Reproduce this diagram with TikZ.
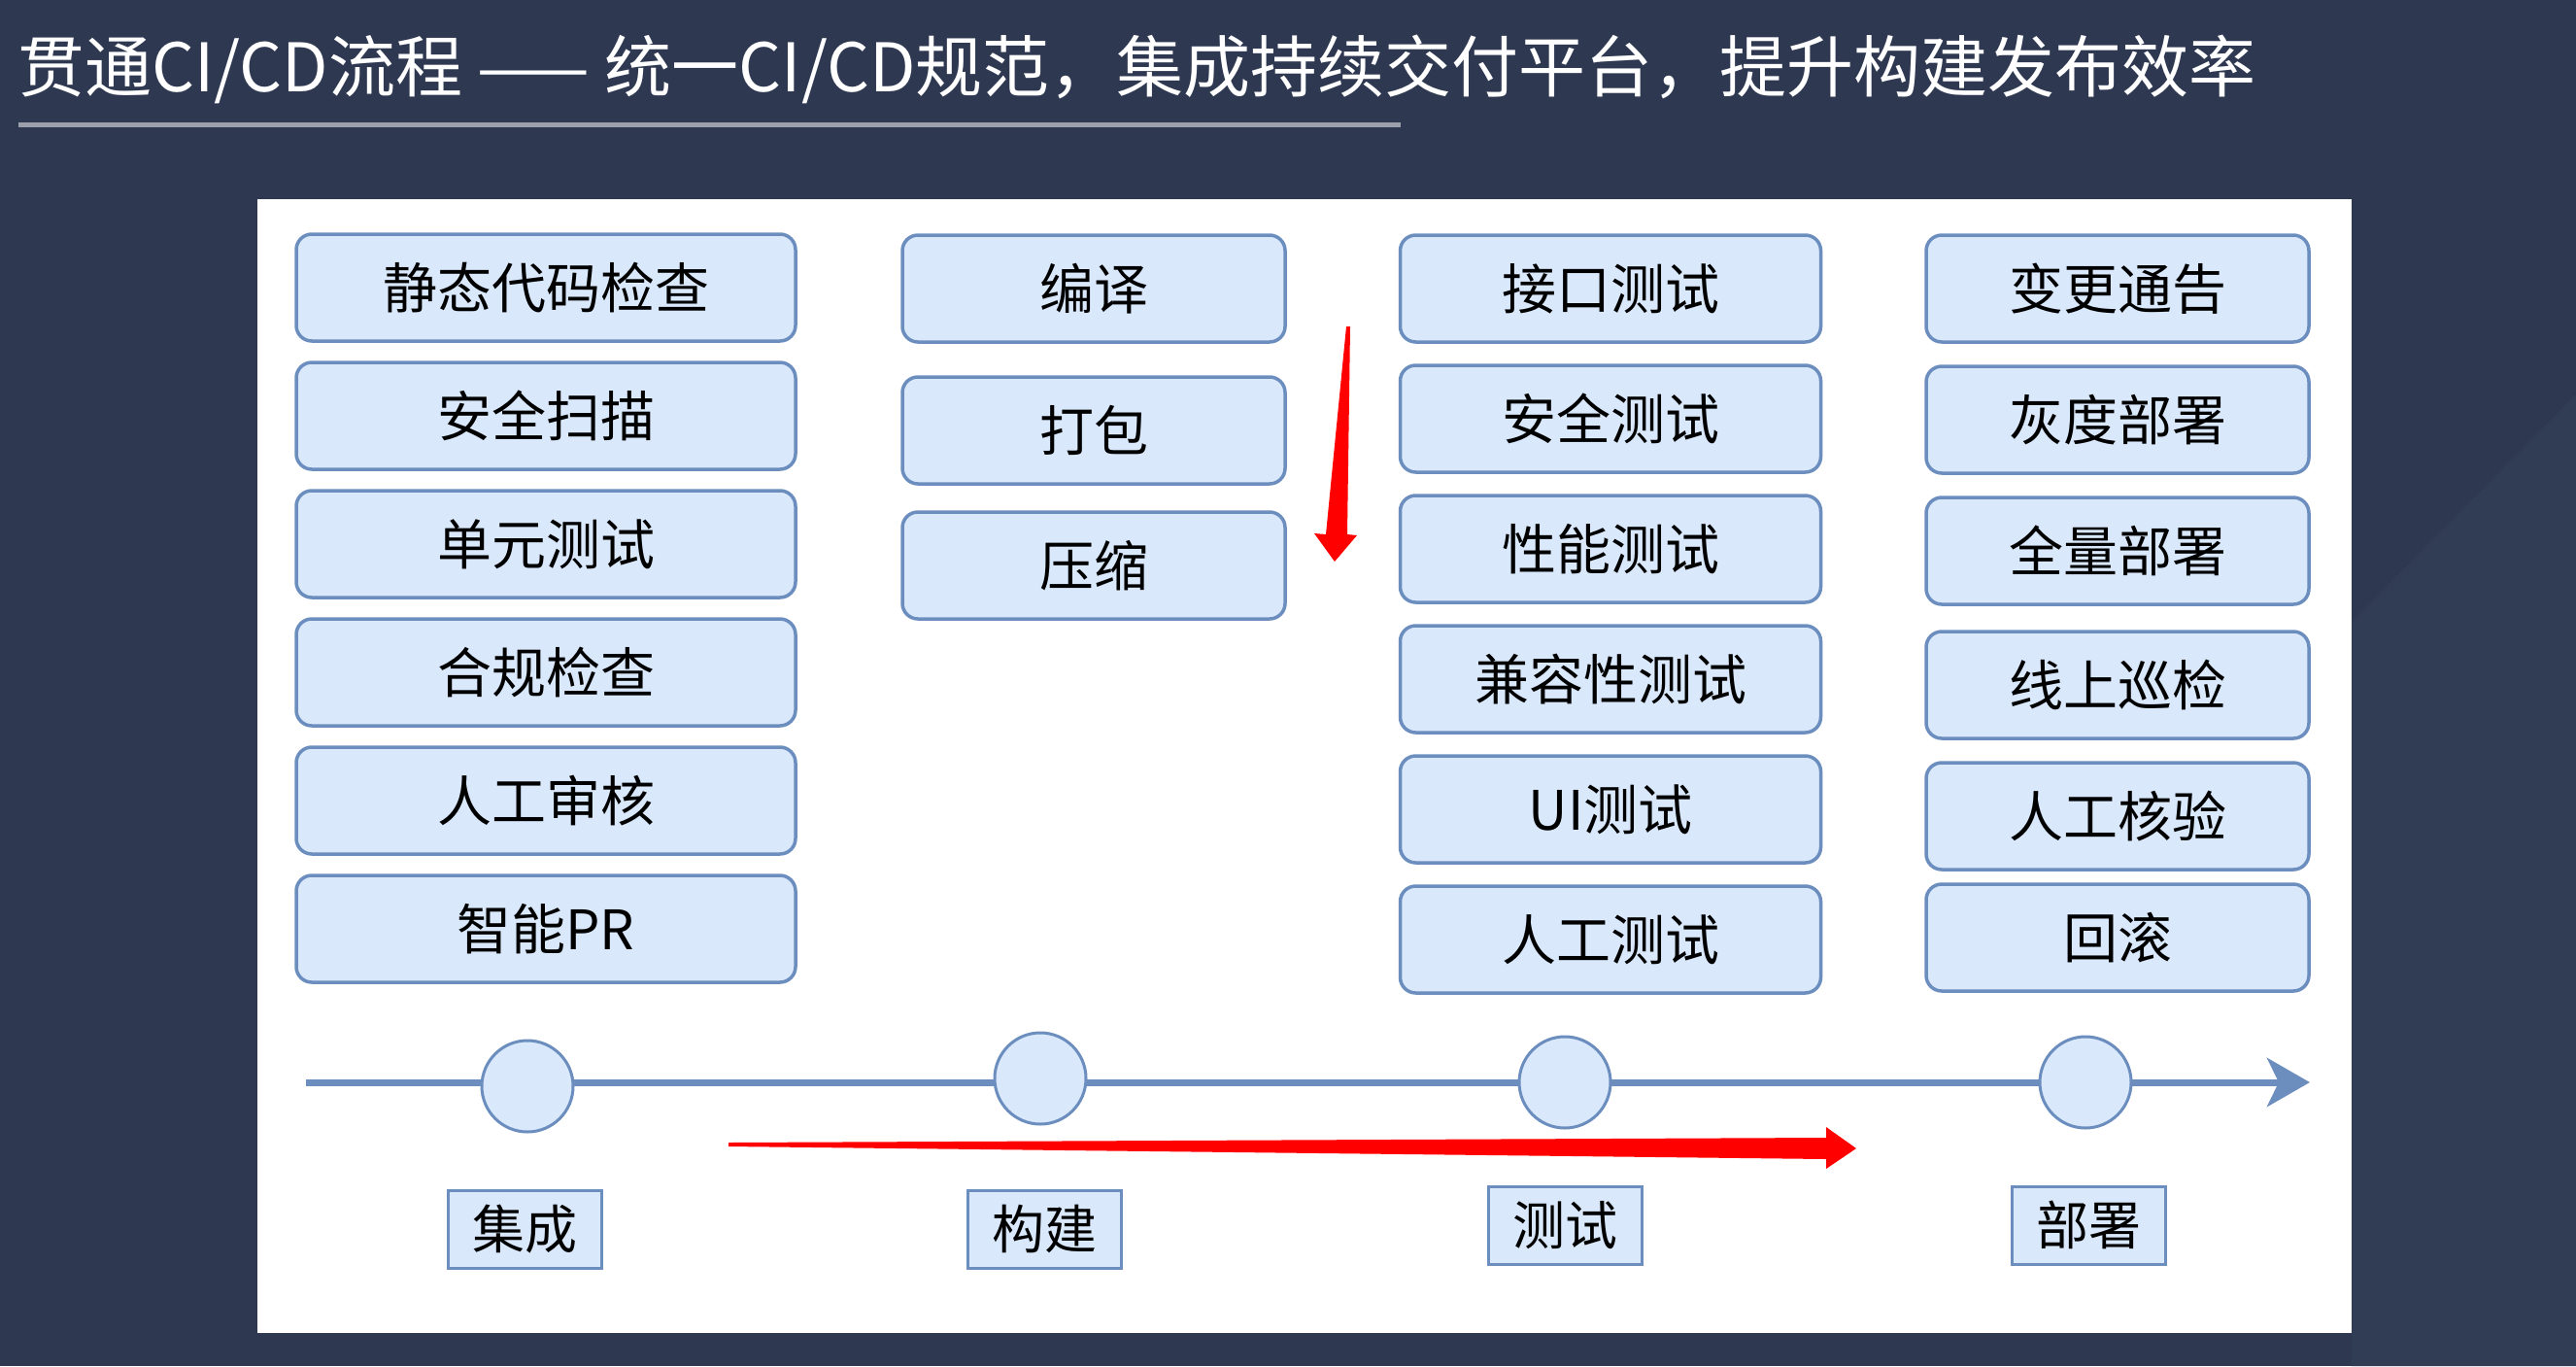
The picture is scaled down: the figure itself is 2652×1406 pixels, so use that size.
\documentclass[tikz,border=0pt]{standalone}
\usepackage{fontspec}
\setmainfont{Noto Sans CJK SC}
\usetikzlibrary{arrows.meta}
\definecolor{bgnavy}{HTML}{2E3851}
\definecolor{bgshade}{HTML}{313C55}
\definecolor{boxfill}{HTML}{DAE8FC}
\definecolor{boxline}{HTML}{6C8EBF}
\definecolor{ruleg}{HTML}{9BA0AA}
\begin{document}
\begin{tikzpicture}[x=1pt,y=-1pt,
    task/.style={draw=boxline, fill=boxfill, line width=3.5pt, rounded corners=16pt,
      minimum height=110pt, inner sep=0pt, font=\fontsize{56}{60}\selectfont},
    stage/.style={draw=boxline, fill=boxfill, line width=3pt, minimum width=158pt,
      minimum height=80pt, inner sep=0pt, font=\fontsize{54}{58}\selectfont},
    milestone/.style={circle, draw=boxline, fill=boxfill, line width=3pt,
      minimum size=94pt, inner sep=0pt}]
       % background and panel
       \fill[bgnavy] (0,0) rectangle (2652,1406);
       \fill[bgshade] (2421,640) -- (2652,406) -- (2652,1406) -- (2421,1406) -- cycle;
       \useasboundingbox (0,0) rectangle (2652,1406);
       \node[anchor=base west, text=white, inner sep=0pt, font=\fontsize{69}{73}\selectfont] (title) at (18,94)
         {贯通CI/CD流程 —— 统一CI/CD规范，集成持续交付平台，提升构建发布效率};
       \draw[ruleg, line width=5pt] (19,128) -- (1442,128);
       \fill[white] (265,205) rectangle (2421,1372);

       % task columns
       \foreach \t [count=\i] in {静态代码检查,安全扫描,单元测试,合规检查,人工审核,智能PR} {
        \node[task, minimum width=514pt] (int\i) at (562, 164+132*\i) {\t};
       }
       \foreach \t/\y [count=\i] in {编译/297,打包/443,压缩/582} {
        \node[task, minimum width=394pt] (bld\i) at (1126,\y) {\t};
       }
       \foreach \t [count=\i] in {接口测试,安全测试,性能测试,兼容性测试,UI测试,人工测试} {
        \node[task, minimum width=433pt] (tst\i) at (1658, 163+134*\i) {\t};
       }
       \foreach \t/\y [count=\i] in {变更通告/297,灰度部署/432,全量部署/567,线上巡检/705,人工核验/840,回滚/965} {
        \node[task, minimum width=394pt] (dep\i) at (2180,\y) {\t};
       }

       % timeline
       \coordinate (tl0) at (315,1114);
       \coordinate (tl1) at (2378,1114);
       \draw[boxline, line width=7pt, -{Stealth[length=44pt, width=50pt, inset=12pt]}] (tl0) -- (tl1);
       \node[milestone] (m1) at (543,1118) {};
       \node[milestone] (m2) at (1071,1110) {};
       \node[milestone] (m3) at (1611,1114) {};
       \node[milestone] (m4) at (2147,1114) {};

       \node[stage] (s1) at (540,1265) {集成};
       \node[stage] (s2) at (1075,1265) {构建};
       \node[stage] (s3) at (1611,1261) {测试};
       \node[stage] (s4) at (2150,1261) {部署};

       % red arrows
       \fill[red] (750,1176) -- (1880,1171) -- (1880,1160) -- (1911,1182) -- (1880,1203)
         -- (1880,1193) -- (750,1180) -- cycle;
       \fill[red] (1386,336) -- (1390,336) -- (1387,550) -- (1397,551) -- (1374,578)
         -- (1353,549) -- (1365,550) -- cycle;
   \end{tikzpicture}
\end{document}
